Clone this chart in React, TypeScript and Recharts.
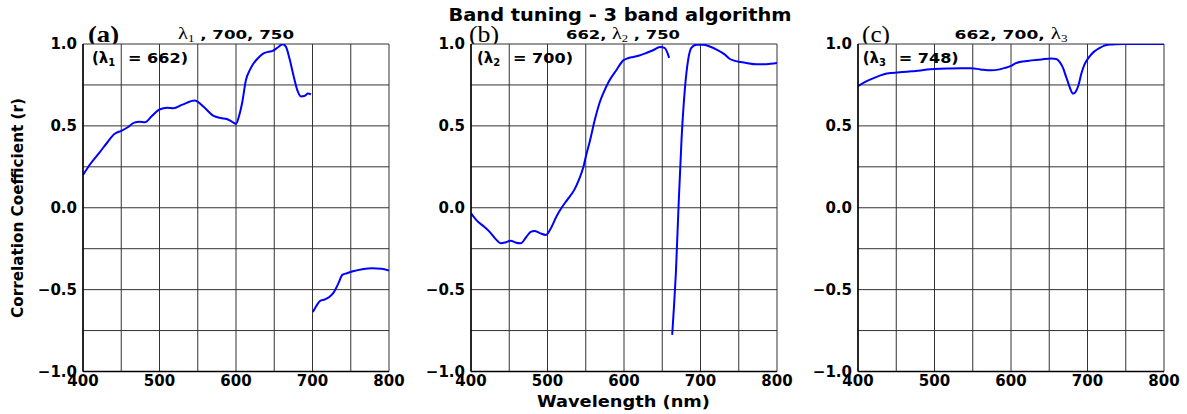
import React from 'react';
import { LineChart, Line, XAxis, YAxis, CartesianGrid } from 'recharts';

// ---- axis ticks ----
const xTicks = [400, 450, 500, 550, 600, 650, 700, 750, 800];
const yTicks = [-1, -0.75, -0.5, -0.25, 0, 0.25, 0.5, 0.75, 1];

// ---- panel (a): lambda1 tuning ----
const aWl1 = [400, 410, 422, 432, 441, 450, 458, 467, 474, 481, 490, 500, 510, 518, 530, 546, 558, 570, 580, 588, 595, 600, 604, 608, 613, 618, 622, 628, 635, 642, 648, 655, 661, 665, 670, 675, 680, 685, 690, 694, 698];
const aR1 = [0.2, 0.27, 0.34, 0.4, 0.45, 0.47, 0.49, 0.52, 0.525, 0.522, 0.56, 0.6, 0.61, 0.608, 0.63, 0.655, 0.615, 0.563, 0.548, 0.542, 0.525, 0.512, 0.56, 0.64, 0.78, 0.84, 0.875, 0.91, 0.94, 0.952, 0.958, 0.98, 0.998, 0.985, 0.91, 0.81, 0.72, 0.68, 0.684, 0.697, 0.693];
const aWl2 = [700.5, 705, 710, 716, 722, 728, 734, 739, 745, 753, 765, 778, 790, 800];
const aR2 = [-0.637, -0.6, -0.568, -0.56, -0.545, -0.515, -0.46, -0.41, -0.4, -0.388, -0.375, -0.369, -0.372, -0.383];

// ---- panel (b): lambda2 tuning ----
const bWl1 = [400, 408, 417, 425, 432, 439, 445, 452, 458, 465, 472, 478, 483, 490, 498, 505, 512, 518, 526, 535, 541, 547, 551, 555, 562, 568, 573, 580, 590, 599, 605, 612, 620, 629, 638, 647, 653, 656, 659];
const bR1 = [-0.034, -0.08, -0.115, -0.15, -0.19, -0.217, -0.212, -0.201, -0.212, -0.217, -0.18, -0.148, -0.142, -0.155, -0.166, -0.12, -0.05, -0.003, 0.05, 0.109, 0.17, 0.25, 0.33, 0.4, 0.54, 0.64, 0.7, 0.77, 0.84, 0.9, 0.913, 0.921, 0.93, 0.945, 0.962, 0.982, 0.976, 0.955, 0.915];
const bWl2 = [663, 665.5, 667.8, 671.3, 675.2, 679.5, 683.9, 688, 694.7, 703.5, 712, 721, 732, 738, 743, 752, 760, 773, 786, 800];
const bR2 = [-0.776, -0.59, -0.399, 0.008, 0.416, 0.721, 0.905, 0.976, 0.996, 0.996, 0.985, 0.966, 0.935, 0.91, 0.9, 0.89, 0.884, 0.876, 0.877, 0.884];

// ---- panel (c): lambda3 tuning ----
const cWl = [400, 410, 422, 434, 444, 458, 470, 482, 490, 500, 520, 535, 548, 560, 574, 585, 592, 600, 605, 615, 627, 640, 653, 659, 664, 668, 672, 675, 678, 681, 684, 688, 692, 696, 702, 709, 716, 722, 730, 736, 748, 770, 800];
const cR = [0.742, 0.77, 0.795, 0.815, 0.823, 0.829, 0.833, 0.838, 0.844, 0.848, 0.851, 0.852, 0.852, 0.845, 0.839, 0.845, 0.854, 0.866, 0.88, 0.893, 0.9, 0.906, 0.911, 0.909, 0.888, 0.854, 0.8, 0.76, 0.72, 0.697, 0.705, 0.745, 0.82, 0.874, 0.92, 0.955, 0.976, 0.99, 0.997, 0.999, 1.0, 1.0, 1.0];

// ---- text ----
const suptitle = 'Band tuning - 3 band algorithm';
const xLabel = 'Wavelength (nm)';
const yLabel = 'Correlation Coefficient (r)';
const annotValues = ['= 662)', '= 700)', '= 748)'];

const zip = (w: number[], r: number[]) => w.map((x, i) => ({ x, r: r[i] }));

const SANS = '"DejaVu Sans", sans-serif';
const SERIF = '"Liberation Serif", "DejaVu Serif", serif';

const fmtX = (v: number) => (v % 100 === 0 ? String(v) : '');
const fmtY = (v: number) => {
  if (Math.abs(v * 2 - Math.round(v * 2)) > 1e-9) return '';
  const s = Math.abs(v).toFixed(1);
  return v < 0 ? '\u2212' + s : s;
};

const PLOT_W = 306;
const Y_AXIS_W = 60;
const RIGHT_M = 30;

function Panel({ plotLeft, segments }: { plotLeft: number; segments: { x: number; r: number }[][] }) {
  const tick = { fontFamily: SANS, fontWeight: 'bold', fontSize: 15, fill: '#000' } as any;
  return (
    <div style={{ position: 'absolute', left: plotLeft - Y_AXIS_W, top: 0 }}>
      <LineChart
        width={PLOT_W + Y_AXIS_W + RIGHT_M}
        height={414}
        margin={{ top: 44, right: RIGHT_M, bottom: 12.5, left: 0 }}
      >
        <CartesianGrid stroke="#333" strokeWidth={1} fill="#fff" fillOpacity={1} />
        <XAxis
          type="number"
          dataKey="x"
          domain={[400, 800]}
          ticks={xTicks}
          tickFormatter={fmtX}
          interval={0}
          allowDataOverflow
          height={30}
          tickLine={false}
          tickSize={0}
          tickMargin={4}
          axisLine={{ stroke: '#000', strokeWidth: 1.5 }}
          tick={tick}
        />
        <YAxis
          type="number"
          domain={[-1, 1]}
          ticks={yTicks}
          tickFormatter={fmtY}
          interval={0}
          allowDataOverflow
          width={Y_AXIS_W}
          tickLine={false}
          tickSize={0}
          tickMargin={6}
          axisLine={{ stroke: '#000', strokeWidth: 1.5 }}
          tick={tick}
        />
        {segments.map((seg, i) => (
          <Line
            key={i}
            data={seg}
            dataKey="r"
            type="monotone"
            stroke="#0000ff"
            strokeWidth={2}
            dot={false}
            activeDot={false}
            isAnimationActive={false}
          />
        ))}
      </LineChart>
    </div>
  );
}

function Annot({ x, idx }: { x: number; idx: number }) {
  return (
    <g>
      <text x={x} y={63} fontFamily={SANS} fontWeight="bold" fontSize={15}>
        {'(λ'}<tspan fontSize={10} dy={3}>{String(idx + 1)}</tspan>
      </text>
      <text x={x + 36} y={63} fontFamily={SANS} fontWeight="bold" fontSize={14} textLength={60} lengthAdjust="spacingAndGlyphs">
        {annotValues[idx]}
      </text>
    </g>
  );
}

export default function App() {
  const sub = { fontSize: 10, fontFamily: SERIF, fontWeight: 'normal' } as any;
  const lam = { fontFamily: SERIF, fontWeight: 'normal', fontSize: 16 } as any;
  return (
    <div style={{ position: 'absolute', left: 0, top: 0, width: 1187, height: 414, background: '#fff', overflow: 'hidden' }}>
      {/* texts outside the plot areas (beneath the plots) */}
      <svg width={1187} height={414} style={{ position: 'absolute', left: 0, top: 0 }}>
        <text x={620} y={20.5} textAnchor="middle" fontFamily={SANS} fontWeight="bold" fontSize={17} textLength={343} lengthAdjust="spacingAndGlyphs">{suptitle}</text>
        <text x={623.5} y={406.5} textAnchor="middle" fontFamily={SANS} fontWeight="bold" fontSize={16} textLength={173} lengthAdjust="spacingAndGlyphs">{xLabel}</text>
        <text transform="translate(23,208) rotate(-90)" x={0} y={0} textAnchor="middle" fontFamily={SANS} fontWeight="bold" fontSize={16} textLength={220} lengthAdjust="spacingAndGlyphs">{yLabel}</text>

        <text x={88} y={42} fontFamily={SERIF} fontWeight="bold" fontSize={24} textLength={31} lengthAdjust="spacingAndGlyphs">(a)</text>
        <text x={469} y={42} fontFamily={SERIF} fontSize={24} textLength={30} lengthAdjust="spacingAndGlyphs">(b)</text>
        <text x={862} y={42} fontFamily={SERIF} fontSize={24} textLength={28} lengthAdjust="spacingAndGlyphs">(c)</text>

        <text x={236} y={38.5} textAnchor="middle" fontFamily={SANS} fontWeight="bold" fontSize={13} textLength={116} lengthAdjust="spacingAndGlyphs">
          <tspan {...lam}>λ</tspan><tspan {...sub} dy={3}>1</tspan><tspan dy={-3}>{'\u00a0, 700, 750'}</tspan>
        </text>
        <text x={623} y={38.5} textAnchor="middle" fontFamily={SANS} fontWeight="bold" fontSize={13} textLength={114} lengthAdjust="spacingAndGlyphs">
          {'662, '}<tspan {...lam}>λ</tspan><tspan {...sub} dy={3}>2</tspan><tspan dy={-3}>{'\u00a0, 750'}</tspan>
        </text>
        <text x={1011} y={38.5} textAnchor="middle" fontFamily={SANS} fontWeight="bold" fontSize={13} textLength={113} lengthAdjust="spacingAndGlyphs">
          {'662, 700, '}<tspan {...lam}>λ</tspan><tspan {...sub} dy={3}>3</tspan>
        </text>
      </svg>

      <Panel plotLeft={83.3} segments={[zip(aWl1, aR1), zip(aWl2, aR2)]} />
      <Panel plotLeft={471} segments={[zip(bWl1, bR1), zip(bWl2, bR2)]} />
      <Panel plotLeft={858.3} segments={[zip(cWl, cR)]} />

      {/* annotations inside the plots */}
      <svg width={1187} height={414} style={{ position: 'absolute', left: 0, top: 0, pointerEvents: 'none' }}>
        <Annot x={92} idx={0} />
        <Annot x={477} idx={1} />
        <Annot x={862.7} idx={2} />
      </svg>
    </div>
  );
}
